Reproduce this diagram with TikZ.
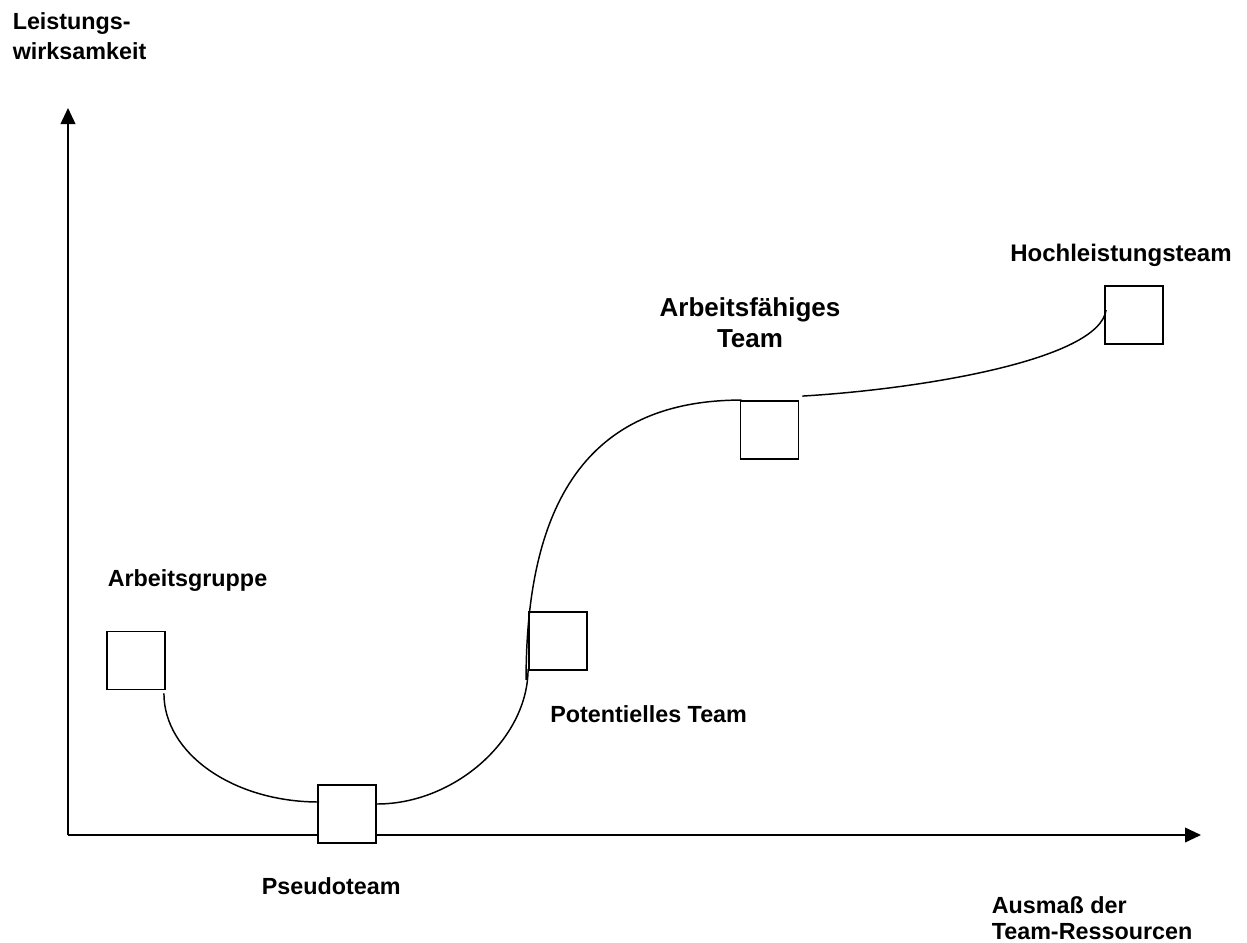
\documentclass[tikz,border=0pt]{standalone}
\usepackage{fontspec}
\setmainfont{Liberation Sans}
\usetikzlibrary{arrows.meta,calc}
\tikzset{
  stage/.style={draw=black,line width=1.4pt,fill=white,minimum size=43.5pt,inner sep=0pt},
  curve/.style={line width=1.1pt},
  axis/.style={line width=1.3pt,-{Triangle[length=12pt,width=11pt]}},
  lbl/.style={inner sep=0pt,anchor=base west,font=\bfseries\fontsize{17.5}{22}\selectfont},
  biglbl/.style={inner sep=0pt,font=\bfseries\fontsize{19.5}{23}\selectfont}
}
\begin{document}
\begin{tikzpicture}[x=0.75pt,y=-0.75pt]
  \useasboundingbox (0,0) rectangle (1247,943);
  \coordinate (origin) at (68,835);
  \coordinate (ytip) at (68,108);
  \coordinate (xtip) at (1201,835);
  \draw[axis] (origin) -- (ytip);
  \draw[axis] (origin) -- (xtip);

  \node[stage] (ag) at (136,660.5) {};
  \node[stage] (pt) at (347,814) {};
  \node[stage] (pot) at (558,641) {};
  \node[stage] (af) at (769.5,430) {};
  \node[stage] (hl) at (1134,315) {};

  \draw[curve] ($(ag.south east)+(-2,3)$) .. controls +(0,60) and +(-86,0) .. ($(pt.west)+(2,-12)$);
  \draw[curve] ($(pt.east)+(0,-10)$) .. controls +(78,0) and +(0,70) .. ($(pot.south west)+(0,-2)$);
  \draw[curve] ($(pot.south west)+(-2,9)$) .. controls +(0,-188) and +(-146,0) .. ($(af.north west)+(2,0)$);
  \draw[curve] ($(af.north east)+(3,-4)$) .. controls +(118,-7) and +(-7,50) .. ($(hl.west)+(2,-5)$);

  \node[lbl] (agl) at (107.5,586) {Arbeitsgruppe};
  \node[lbl] (ptl) at (261.5,894.5) {Pseudoteam};
  \node[lbl] (potl) at (550,722.5) {Potentielles Team};
  \node[lbl,font=\bfseries\fontsize{18}{22}\selectfont] (hll) at (1010,261.5) {Hochleistungsteam};
  \node[biglbl,anchor=north,align=center] (afl) at (750,297.5) {Arbeitsfähiges\\Team};
  \node[lbl,anchor=north west,align=left,font=\bfseries\fontsize{17.5}{22.5}\selectfont] (yl) at (12.5,12.5) {Leistungs-\\wirksamkeit};
  \node[lbl,anchor=north west,align=left,font=\bfseries\fontsize{17.5}{19}\selectfont] (xl) at (991.5,896.5) {Ausmaß der\\Team-Ressourcen};
\end{tikzpicture}
\end{document}
